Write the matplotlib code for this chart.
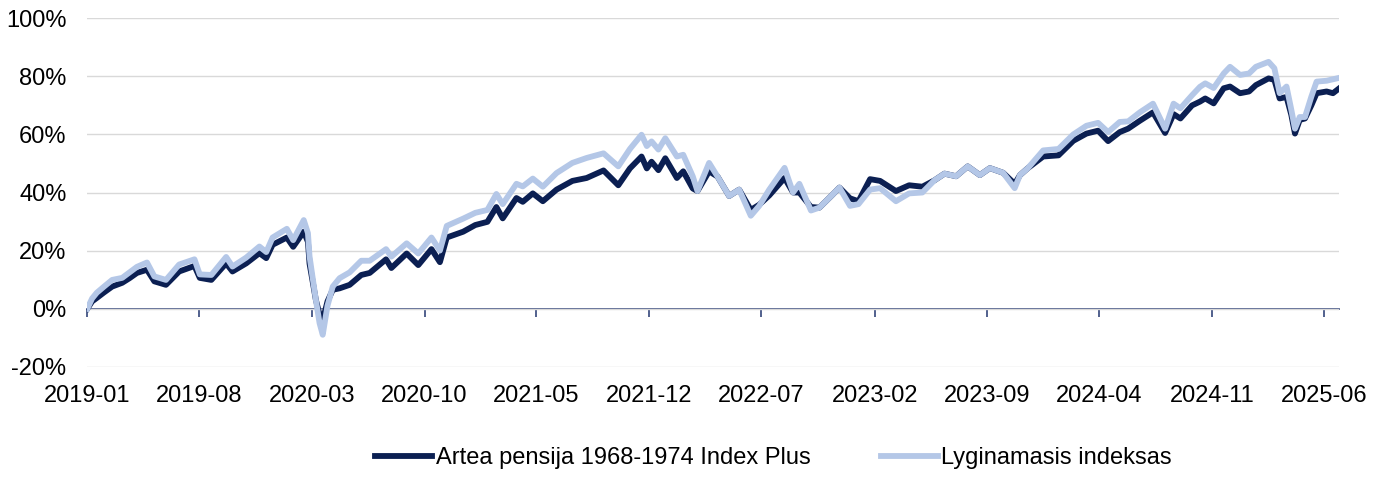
#ライブラリの設定
import pandas as pd
import matplotlib
matplotlib.use("Agg")
import matplotlib.pyplot as plt
import matplotlib.dates as mdates
from matplotlib.ticker import FuncFormatter

#データ (画像から読み取り, %)
dates = ["2019-01-01", "2019-01-10", "2019-01-19", "2019-02-01", "2019-02-17", "2019-03-08",
         "2019-03-22", "2019-04-05", "2019-04-24", "2019-05-08", "2019-05-30", "2019-06-24",
         "2019-07-23", "2019-08-02", "2019-08-24", "2019-09-21", "2019-10-03", "2019-10-29",
         "2019-11-23", "2019-12-06", "2019-12-18", "2020-01-14", "2020-01-26", "2020-02-15",
         "2020-02-23", "2020-02-26", "2020-03-09", "2020-03-16", "2020-03-22", "2020-03-31",
         "2020-04-10", "2020-04-23", "2020-05-12", "2020-06-03", "2020-06-19", "2020-07-20",
         "2020-07-30", "2020-08-28", "2020-09-19", "2020-10-14", "2020-10-30", "2020-11-12",
         "2020-12-13", "2021-01-05", "2021-01-28", "2021-02-14", "2021-02-26", "2021-03-24",
         "2021-04-05", "2021-04-24", "2021-05-13", "2021-06-08", "2021-07-08", "2021-08-04",
         "2021-09-05", "2021-10-03", "2021-10-25", "2021-11-16", "2021-11-26", "2021-12-05",
         "2021-12-18", "2021-12-31", "2022-01-22", "2022-02-03", "2022-02-21", "2022-03-02",
         "2022-03-24", "2022-04-09", "2022-05-01", "2022-05-20", "2022-06-11", "2022-06-27",
         "2022-07-16", "2022-08-14", "2022-08-30", "2022-09-11", "2022-10-03", "2022-10-19",
         "2022-11-11", "2022-11-26", "2022-12-16", "2023-01-01", "2023-01-23", "2023-02-11",
         "2023-03-13", "2023-04-07", "2023-05-02", "2023-05-25", "2023-06-13", "2023-07-05",
         "2023-07-27", "2023-08-19", "2023-09-07", "2023-10-02", "2023-10-24", "2023-11-03",
         "2023-11-18", "2023-12-17", "2024-01-15", "2024-02-12", "2024-03-08", "2024-03-30",
         "2024-04-18", "2024-05-10", "2024-05-26", "2024-06-17", "2024-07-12", "2024-08-04",
         "2024-08-20", "2024-09-02", "2024-09-24", "2024-10-09", "2024-10-19", "2024-11-04",
         "2024-11-23", "2024-12-05", "2024-12-24", "2025-01-10", "2025-01-23", "2025-02-16",
         "2025-02-27", "2025-03-09", "2025-03-22", "2025-03-31", "2025-04-07", "2025-04-16",
         "2025-04-26", "2025-05-08", "2025-05-18", "2025-06-06", "2025-06-18", "2025-06-30"]

fund = [0.0, 2.5, 3.7, 5.5, 7.6, 8.9,
        10.5, 12.3, 13.4, 9.4, 8.2, 12.8,
        14.7, 10.6, 9.9, 15.6, 12.8, 15.6,
        19.1, 17.4, 22.0, 24.5, 21.3, 26.5,
        23.0, 15.5, 3.0, -2.0, -4.0, 2.5,
        6.5, 7.0, 8.2, 11.6, 12.3, 17.0,
        14.0, 19.0, 15.0, 20.5, 16.0, 24.5,
        26.5, 28.8, 29.9, 35.0, 31.1, 38.1,
        36.8, 39.7, 37.0, 41.0, 44.0, 45.0,
        47.6, 42.5, 48.3, 52.4, 48.3, 50.6,
        47.7, 51.8, 45.0, 47.3, 41.4, 40.5,
        47.3, 45.5, 38.8, 41.0, 34.0, 35.8,
        39.0, 45.0, 40.0, 40.0, 35.0, 34.8,
        38.9, 41.7, 38.0, 37.0, 44.6, 44.0,
        40.5, 42.5, 42.0, 44.2, 46.5, 45.6,
        49.0, 46.0, 48.4, 46.8, 43.0, 46.0,
        48.4, 52.4, 52.8, 57.8, 60.3, 61.3,
        57.7, 60.8, 62.0, 64.7, 67.6, 60.5,
        67.0, 65.5, 70.0, 71.3, 72.4, 70.7,
        75.9, 76.5, 74.2, 74.8, 77.0, 79.3,
        78.8, 72.4, 72.9, 66.8, 60.3, 65.0,
        65.5, 70.0, 74.2, 74.8, 74.2, 75.9]

index = [0.0, 3.5, 5.5, 7.5, 9.9, 10.6,
         12.5, 14.4, 15.9, 11.1, 9.9, 15.2,
         17.0, 11.8, 11.6, 17.8, 14.5, 17.6,
         21.4, 19.5, 24.5, 27.5, 23.6, 30.5,
         26.0, 18.0, 3.0, -5.0, -9.0, 1.0,
         7.6, 10.5, 12.5, 16.5, 16.5, 20.5,
         17.9, 22.5, 19.0, 24.5, 20.0, 28.5,
         31.0, 33.0, 34.0, 39.5, 36.0, 43.0,
         42.1, 44.8, 42.0, 46.7, 50.2, 51.9,
         53.5, 49.0, 55.0, 59.9, 56.0, 57.6,
         54.8, 58.7, 52.4, 53.0, 45.6, 40.5,
         50.2, 45.5, 38.8, 41.0, 32.0, 35.4,
         41.0, 48.5, 40.0, 43.0, 33.8, 34.8,
         38.9, 41.7, 35.4, 36.0, 41.0, 41.5,
         37.0, 39.7, 40.0, 44.2, 46.5, 45.6,
         49.0, 46.0, 48.4, 46.8, 41.5, 46.0,
         48.4, 54.5, 55.0, 60.0, 63.0, 64.0,
         60.8, 64.3, 64.5, 67.6, 70.6, 62.0,
         70.6, 69.0, 73.5, 76.4, 77.6, 76.0,
         81.0, 83.3, 80.5, 81.0, 83.3, 85.0,
         82.8, 74.2, 76.5, 68.6, 62.0, 66.0,
         66.0, 73.0, 78.2, 78.5, 79.0, 79.5]

tick_dates = ["2019-01-01", "2019-08-01", "2020-03-01", "2020-10-01", "2021-05-01", "2021-12-01",
              "2022-07-01", "2023-02-01", "2023-09-01", "2024-04-01", "2024-11-01", "2025-06-01"]
labels = ["Artea pensija 1968-1974 Index Plus", "Lyginamasis indeksas"]

df = pd.DataFrame({"date": pd.to_datetime(dates), "fund": fund, "index": index})
ticks = pd.to_datetime(tick_dates)

#フォント
plt.rcParams["font.family"] = ["Liberation Sans", "DejaVu Sans"]
plt.rcParams["font.size"] = 17

navy = "#0b1f52"
light = "#b4c7e7"

fig = plt.figure(figsize=(13.84, 4.78), dpi=100)
ax = fig.add_axes([0.0631, 0.2328, 0.9046, 0.7289])

ax.plot(df["date"], df["fund"], color=navy, lw=4.2, solid_joinstyle="round", label=labels[0], zorder=3)
ax.plot(df["date"], df["index"], color=light, lw=4.2, solid_joinstyle="round", label=labels[1], zorder=4)

ax.set_ylim(-20, 100)
ax.set_yticks(range(-20, 101, 20))
ax.yaxis.set_major_formatter(FuncFormatter(lambda v, p: f"{v:.0f}%"))
ax.grid(axis="y", color="#d9d9d9", lw=1)
ax.set_axisbelow(True)

ax.set_xlim(pd.Timestamp("2019-01-01"), pd.Timestamp("2025-06-30"))
ax.set_xticks(ticks)
ax.xaxis.set_major_formatter(mdates.DateFormatter("%Y-%m"))
ax.tick_params(axis="x", length=0, pad=13)
ax.tick_params(axis="y", length=0, pad=15)

for s in ["top", "right", "left", "bottom"]:
    ax.spines[s].set_visible(False)

#0%の軸線と目盛り
sec = ax.secondary_xaxis(20 / 120)
sec.set_xticks(mdates.date2num(ticks))
sec.tick_params(axis="x", length=6, width=1.2, color="#34467a", labelbottom=False, direction="out")
sec.spines["bottom"].set_color("#34467a")
sec.spines["bottom"].set_linewidth(1.2)

fig.legend(loc="center", bbox_to_anchor=(0.559, 0.042), ncol=2, frameon=False,
           handlelength=2.4, handletextpad=0.15, columnspacing=3.0, fontsize=17)

plt.savefig("out.png", dpi=100)
